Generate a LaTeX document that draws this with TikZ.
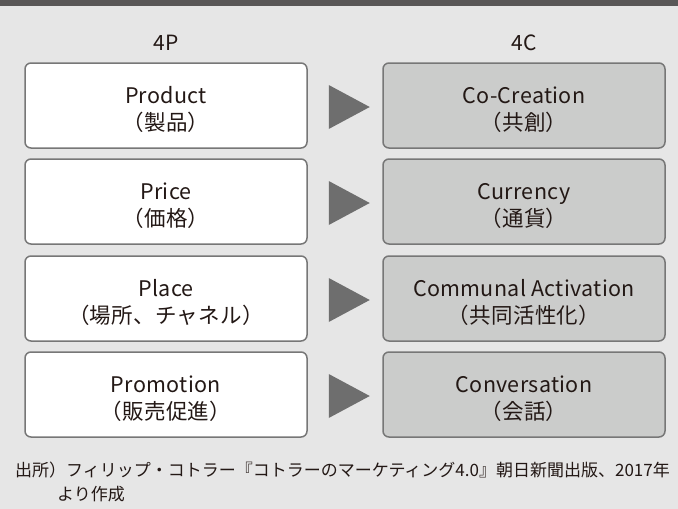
\documentclass[tikz,border=0pt]{standalone}
\usepackage{fontspec}
\setmainfont{Noto Sans CJK JP}
\newfontfamily\boxfont[LetterSpace=1.5]{Noto Sans CJK JP}
\usetikzlibrary{calc}
\definecolor{bgpanel}{HTML}{E6E6E6}
\definecolor{topbar}{HTML}{595757}
\definecolor{boxline}{HTML}{777777}
\definecolor{rightfill}{HTML}{CBCCCB}
\definecolor{arrowfill}{HTML}{6E6E6E}
\definecolor{txt}{HTML}{231815}
\newcommand{\toplift}{\rule{0pt}{25pt}}
\tikzset{
  box/.style={draw=boxline, line width=1.5pt, rounded corners=6pt,
    minimum width=282pt, minimum height=85pt, align=center, inner sep=0pt,
    text=txt, font=\boxfont\fontsize{21.5}{27}\selectfont},
  pbox/.style={box, fill=white},
  cbox/.style={box, fill=rightfill},
  head/.style={text=txt, font=\boxfont\fontsize{21}{25}\selectfont, inner sep=0pt, anchor=base},
  tri/.style={fill=arrowfill},
  src/.style={text=txt, font=\fontsize{17}{20}\selectfont, inner sep=0pt, anchor=base west}
}
\begin{document}
\begin{tikzpicture}[x=1pt,y=-1pt]
\useasboundingbox (0,0) rectangle (678,509);
\fill[bgpanel] (0,0) rectangle (678,509);
\fill[topbar] (0,0) rectangle (678,6);
\node[head] (h4p) at (166,50) {4P};
\node[head] (h4c) at (524,50) {4C};
\node[pbox] (p1) at (166,105.5) {\toplift Product\\（製品）};
\node[pbox] (p2) at (166,201.5) {\toplift Price\\（価格）};
\node[pbox] (p3) at (166,298.5) {\toplift Place\\（場所、チャネル）};
\node[pbox] (p4) at (166,394.5) {\toplift Promotion\\（販売促進）};
\node[cbox] (c1) at (524,105.5) {\toplift Co-Creation\\（共創）};
\node[cbox] (c2) at (524,201.5) {\toplift Currency\\（通貨）};
\node[cbox] (c3) at (524,298.5) {\toplift Communal Activation\\（共同活性化）};
\node[cbox] (c4) at (524,394.5) {\toplift Conversation\\（会話）};
\foreach \r in {1,2,3,4}{
  \fill[tri] ($(p\r.east)+(21,-20.5)$) -- ($(p\r.east)+(21,23.5)$) -- ($(p\r.east)+(62,1.5)$) -- cycle;
}
\node[src] (s1) at (15,476) {出所）フィリップ・コトラー『コトラーのマーケティング4.0』朝日新聞出版、2017年};
\node[src] (s2) at (57,500) {より作成};
\end{tikzpicture}
\end{document}
